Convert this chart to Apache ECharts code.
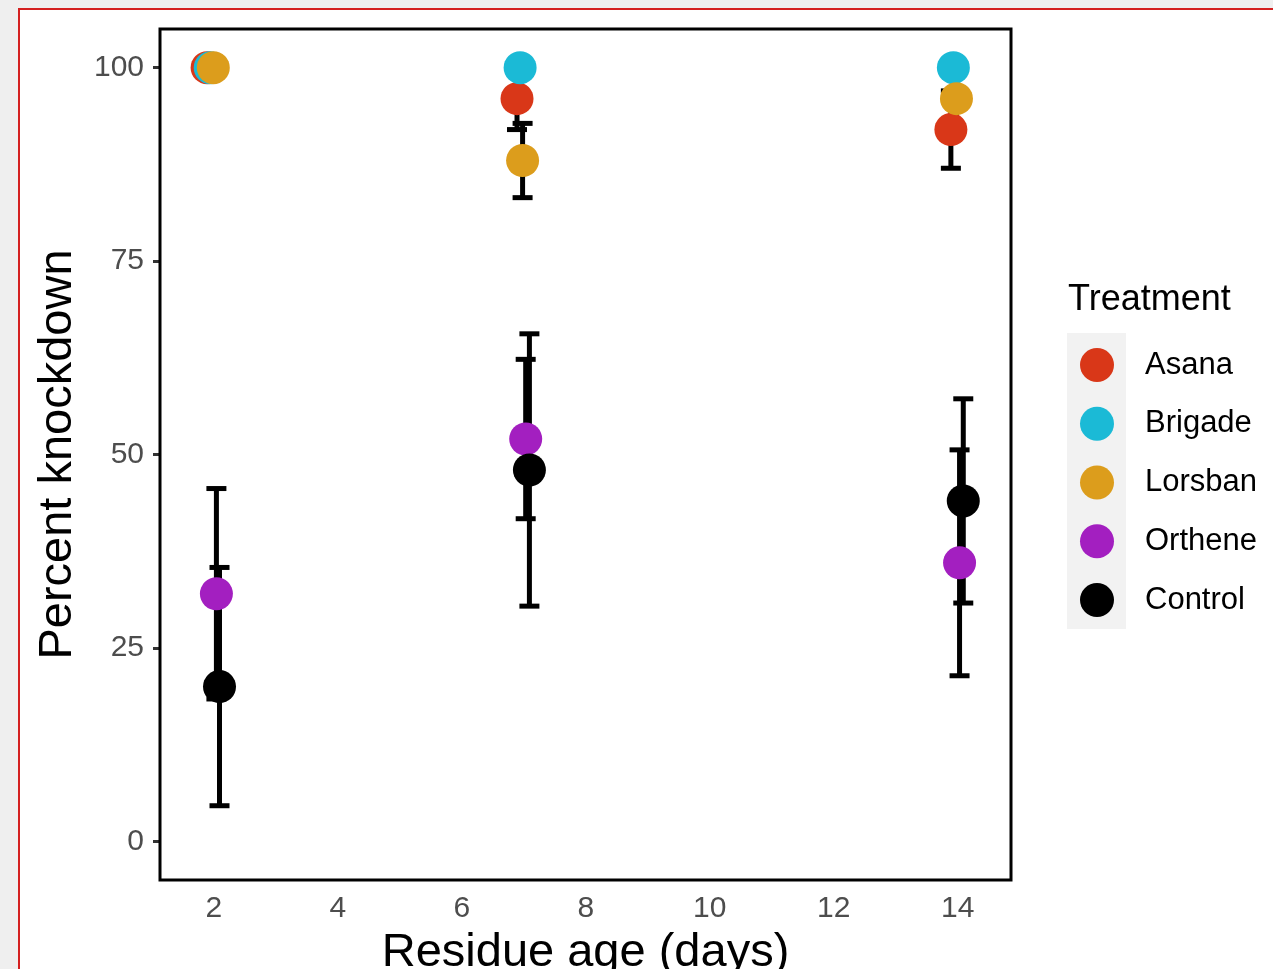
<!DOCTYPE html>
<html>
<head>
<meta charset="utf-8">
<title>Percent knockdown by residue age</title>
<script src="https://cdn.jsdelivr.net/npm/echarts@6/dist/echarts.min.js"></script>
<style>
  html, body { margin: 0; padding: 0; background: #efefef; overflow: hidden; }
  #chart { width: 1273px; height: 969px; }
</style>
</head>
<body>
<div id="chart"></div>
<script>
(function() {
  'use strict';

  // ========== Data ==========
  var treatments = ['Asana', 'Brigade', 'Lorsban', 'Orthene', 'Control'];
  var colors = ['#d93718', '#1bbad6', '#dc9d1c', '#a31fc0', '#000000'];

  // dodged x positions (days), mean and standard error per treatment
  var asanaX = [1.89, 6.89, 13.89];
  var asanaMean = [100, 96, 92];
  var asanaSE = [0, 4, 5];

  var brigadeX = [1.94, 6.94, 13.93];
  var brigadeMean = [100, 100, 100];
  var brigadeSE = [0, 0, 0];

  var lorsbanX = [1.99, 6.98, 13.98];
  var lorsbanMean = [100, 88, 96];
  var lorsbanSE = [0, 4.8, 4];

  var ortheneX = [2.04, 7.03, 14.03];
  var ortheneMean = [32, 52, 36];
  var ortheneSE = [13.6, 10.3, 14.6];

  var controlX = [2.09, 7.09, 14.09];
  var controlMean = [20, 48, 44];
  var controlSE = [15.4, 17.6, 13.2];

  var xTicks = [2, 4, 6, 8, 10, 12, 14];
  var yTicks = [0, 25, 50, 75, 100];

  var groups = [
    { x: asanaX, mean: asanaMean, se: asanaSE },
    { x: brigadeX, mean: brigadeMean, se: brigadeSE },
    { x: lorsbanX, mean: lorsbanMean, se: lorsbanSE },
    { x: ortheneX, mean: ortheneMean, se: ortheneSE },
    { x: controlX, mean: controlMean, se: controlSE }
  ];

  var font = 'Liberation Sans, Arial, Helvetica, sans-serif';
  var tickColor = '#333333';
  var labelColor = '#4d4d4d';

  function errorBar(params, api) {
    var x = api.value(0);
    var top = api.coord([x, api.value(2)]);
    var bot = api.coord([x, api.value(1)]);
    var hw = 10;
    var st = { stroke: '#000', lineWidth: 5 };
    return {
      type: 'group',
      children: [
        { type: 'line', shape: { x1: top[0], y1: top[1], x2: bot[0], y2: bot[1] }, style: st },
        { type: 'line', shape: { x1: top[0] - hw, y1: top[1], x2: top[0] + hw, y2: top[1] }, style: st },
        { type: 'line', shape: { x1: bot[0] - hw, y1: bot[1], x2: bot[0] + hw, y2: bot[1] }, style: st }
      ]
    };
  }

  var series = [];
  // error bars first so points sit on top
  groups.forEach(function(g, i) {
    series.push({
      name: treatments[i] + ' SE',
      type: 'custom',
      z: 2,
      silent: true,
      renderItem: errorBar,
      encode: { x: 0, y: [1, 2] },
      data: g.x.map(function(x, j) { return [x, g.mean[j] - g.se[j], g.mean[j] + g.se[j]]; })
    });
  });
  groups.forEach(function(g, i) {
    series.push({
      name: treatments[i],
      type: 'scatter',
      z: 3,
      symbol: 'circle',
      symbolSize: 33,
      itemStyle: { color: colors[i], opacity: 1 },
      data: g.x.map(function(x, j) { return [x, g.mean[j]]; })
    });
  });

  var chart = echarts.init(document.getElementById('chart'), null, { renderer: 'canvas' });
  chart.setOption({
    animation: false,
    backgroundColor: '#efefef',
    textStyle: { fontFamily: font },
    graphic: [
      {
        type: 'rect', z: -10, silent: true,
        shape: { x: 19, y: 9, width: 1300, height: 1000 },
        style: { fill: '#ffffff', stroke: '#d42020', lineWidth: 2 }
      },
      {
        type: 'rect', z: 0, silent: true,
        shape: { x: 1067, y: 333, width: 59, height: 296 },
        style: { fill: '#f2f2f2' }
      },
      {
        type: 'text', silent: true,
        x: 1068, y: 300,
        style: { text: 'Treatment', fontSize: 36, fontFamily: font, fill: '#000', verticalAlign: 'middle' }
      }
    ],
    grid: {
      left: 160, right: 262, top: 29, bottom: 89,
      outerBoundsMode: 'none',
      show: true,
      backgroundColor: '#ffffff',
      borderColor: '#000000',
      borderWidth: 3,
      z: 1
    },
    legend: {
      data: treatments,
      orient: 'vertical',
      left: 1080,
      top: 348,
      padding: 0,
      icon: 'circle',
      itemWidth: 34,
      itemHeight: 34,
      itemGap: 24.75,
      selectedMode: false,
      textStyle: { fontSize: 31, color: '#000', fontFamily: font, padding: [0, 0, 0, 26] }
    },
    xAxis: {
      type: 'value',
      min: 1.13,
      max: 14.86,
      name: 'Residue age (days)',
      nameLocation: 'middle',
      nameGap: 50,
      nameTextStyle: { fontSize: 47, color: '#000', fontFamily: font },
      axisLine: { show: false },
      splitLine: { show: false },
      axisTick: { show: true, length: 7, customValues: xTicks, lineStyle: { color: tickColor, width: 3 } },
      axisLabel: { customValues: xTicks, fontSize: 30, color: labelColor, margin: 14 }
    },
    yAxis: {
      type: 'value',
      min: -5,
      max: 105,
      name: 'Percent knockdown',
      nameLocation: 'middle',
      nameGap: 78,
      nameTextStyle: { fontSize: 47, color: '#000', fontFamily: font },
      axisLine: { show: false },
      splitLine: { show: false },
      axisTick: { show: true, length: 7, customValues: yTicks, lineStyle: { color: tickColor, width: 3 } },
      axisLabel: { customValues: yTicks, fontSize: 30, color: labelColor, margin: 16 }
    },
    series: series
  });
  window.addEventListener('resize', function() { chart.resize(); });
})();
</script>
</body>
</html>
